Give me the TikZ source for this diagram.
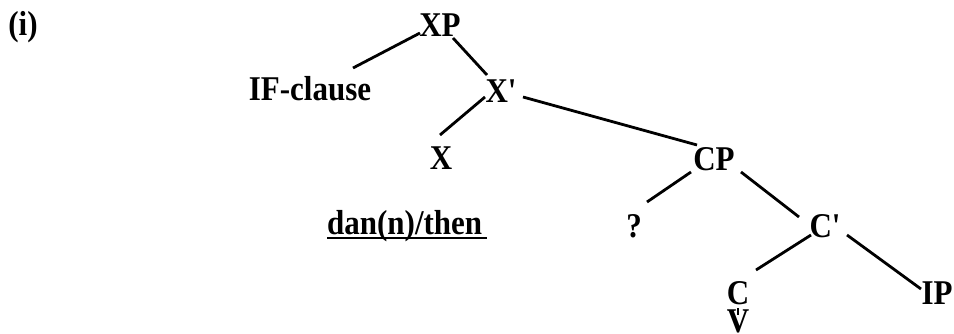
\documentclass[tikz,border=0pt]{standalone}
\usepackage{fontspec}
\setmainfont{Liberation Serif}[Ligatures=TeXOff]
\newcommand{\tallt}[1]{\scalebox{1}[1.12]{#1}}
\begin{document}
\begin{tikzpicture}[x=1pt,y=-1pt,
  lab/.style={inner sep=0pt,anchor=base,font=\fontsize{31}{36}\selectfont\bfseries},
  edge/.style={line width=2.8pt},
  uline/.style={line width=2pt}]
\useasboundingbox[fill=white] (0,0) rectangle (954,334);
% nodes (placed at their baselines)
\node[lab] (ex)  at (23,36)  {\tallt{(i)}};
\node[lab] (XP)  at (440,37) {\tallt{XP}};
\node[lab] (IFc) at (310,101) {\tallt{IF-clause}};
\node[lab] (Xb)  at (501,103) {\tallt{X'}};
\node[lab] (X)   at (441,170) {\tallt{X}};
\node[lab] (CP)  at (714,171) {\tallt{CP}};
\node[lab,anchor=base west] (dan) at (327,235) {\tallt{dan(n)/then}};
\node[lab] (q)   at (634,237) {\tallt{?}};
\node[lab] (Cb)  at (825,237) {\tallt{C'}};
\node[lab] (C)   at (738,304) {\tallt{C}};
\node[lab] (IP)  at (937,304) {\tallt{IP}};
\node[lab] (V)   at (738,332) {\tallt{V}};
% underline
\draw[uline] ([shift={(0,3)}]dan.base west) -- ([shift={(160,3)}]dan.base west);
% branches
\draw[edge] ([shift={(-20,-4)}]XP.base) -- ([shift={(43,-33)}]IFc.base);
\draw[edge] ([shift={(13,1)}]XP.base) -- ([shift={(-14,-28)}]Xb.base);
\draw[edge] ([shift={(-16,-6)}]Xb.base) -- ([shift={(-1,-35)}]X.base);
\draw[edge] ([shift={(22,-6)}]Xb.base) -- ([shift={(-17,-26)}]CP.base);
\draw[edge] ([shift={(-23,1)}]CP.base) -- ([shift={(13,-35)}]q.base);
\draw[edge] ([shift={(27,1)}]CP.base) -- ([shift={(-26,-20)}]Cb.base);
\draw[edge] ([shift={(-14,-2)}]Cb.base) -- ([shift={(18,-34)}]C.base);
\draw[edge] ([shift={(22,-2)}]Cb.base) -- ([shift={(-16,-15)}]IP.base);
\draw[line width=1.8pt] ([shift={(0,4)}]C.base) -- ([shift={(0,-17)}]V.base);
\end{tikzpicture}
\end{document}
